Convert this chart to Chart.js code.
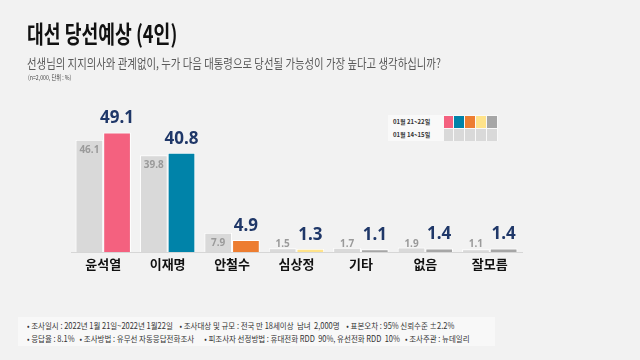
<!DOCTYPE html>
<html>
<head>
<meta charset="utf-8">
<script src="https://cdn.jsdelivr.net/npm/chart.js@4"></script>
<style>
  html, body { margin: 0; padding: 0; }
  body { width: 640px; height: 360px; background: #f2f2f2; position: relative; overflow: hidden;
         font-family: "Noto Sans CJK KR", "Noto Sans", sans-serif; }
  #chart { position: absolute; left: 0; top: 0; }
  .sq { position: absolute; transform-origin: left top; white-space: nowrap; }
  .title { left: 27px; top: 15px; font-size: 24px; font-weight: 700; color: #111; transform: scaleX(0.76); }
  .sub { left: 27px; top: 53px; font-size: 13px; color: #595959; transform: scaleX(0.8); }
  .note { left: 28px; top: 72px; font-size: 6.5px; color: #444; transform: scaleX(0.8); }
  .legend { position: absolute; left: 388px; top: 115px; width: 110px; height: 26px; background: #f9f9f9; }
  .legend .row { display: flex; height: 13px; align-items: center; }
  .legend .lbl { width: 56px; font-size: 6px; font-weight: 700; color: #333; padding-left: 5px; box-sizing: border-box; }
  .legend .sw { width: 10px; height: 12px; margin-right: 1px; }
  .foot { position: absolute; left: 18px; top: 317px; width: 477px; height: 29px; background: #f8f8f8; }
  .foot .txt { left: 9px; top: 2px; font-size: 8.5px; color: #333; line-height: 13px; white-space: pre; transform: scaleX(0.88); }
</style>
</head>
<body>
<canvas id="chart" width="640" height="360"></canvas>
<div class="sq title">대선 당선예상 (4인)</div>
<div class="sq sub">선생님의 지지의사와 관계없이, 누가 다음 대통령으로 당선될 가능성이 가장 높다고 생각하십니까?</div>
<div class="sq note">(n=2,000, 단위 : %)</div>
<div class="legend" id="legend"></div>
<div class="foot"><div class="sq txt">• 조사일시 : 2022년 1월 21일~2022년 1월22일    • 조사대상 및 규모 : 전국 만 18세이상  남녀  2,000명    • 표본오차 : 95% 신뢰수준 ±2.2%
• 응답율 : 8.1%   • 조사방법 : 유무선 자동응답전화조사      • 피조사자 선정방법 : 휴대전화 RDD  90%, 유선전화 RDD  10%   • 조사주관 : 뉴데일리</div></div>

<script>
const categories = ["윤석열", "이재명", "안철수", "심상정", "기타", "없음", "잘모름"];
const seriesNames = ["01월 14~15일", "01월 21~22일"];
const prevValues = [46.1, 39.8, 7.9, 1.5, 1.7, 1.9, 1.1];
const currValues = [49.1, 40.8, 4.9, 1.3, 1.1, 1.4, 1.4];
const currColors = ["#f4617f", "#0083a9", "#ed7d31", "#ffe38a", "#a6a6a6", "#a6a6a6", "#a6a6a6"];
const prevColor = "#d9d9d9";

// legend squares (5 swatches as in the original)
const legendSwatches = currColors.slice(0, 5);
const legend = document.getElementById("legend");
[[seriesNames[1], legendSwatches], [seriesNames[0], legendSwatches.map(() => prevColor)]].forEach(([name, cols]) => {
  const row = document.createElement("div");
  row.className = "row";
  row.innerHTML = `<div class="lbl">${name}</div>` + cols.map(c => `<div class="sw" style="background:${c}"></div>`).join("");
  legend.appendChild(row);
});

const valueLabels = {
  id: "valueLabels",
  afterDatasetsDraw(chart) {
    const ctx = chart.ctx;
    const base = chart.chartArea.bottom;
    ctx.save();
    ctx.textAlign = "center";
    ctx.textBaseline = "middle";
    chart.data.datasets.forEach((ds, i) => {
      const meta = chart.getDatasetMeta(i);
      meta.data.forEach((bar, j) => {
        const v = ds.data[j].toFixed(1);
        if (i === 0) {
          ctx.font = "bold 10px 'Noto Sans', sans-serif";
          ctx.fillStyle = "#9a9a9a";
          ctx.fillText(v, bar.x, Math.min(bar.y + 10, base - 8));
        } else {
          ctx.font = "bold 17px 'Noto Sans', sans-serif";
          ctx.fillStyle = "#1f3768";
          ctx.fillText(v, bar.x, bar.y - 14);
        }
      });
    });
    ctx.restore();
  }
};

new Chart(document.getElementById("chart").getContext("2d"), {
  type: "bar",
  data: {
    labels: categories,
    datasets: [
      { label: seriesNames[0], data: prevValues, backgroundColor: prevColor, borderColor: "#ffffff", borderWidth: 1 },
      { label: seriesNames[1], data: currValues, backgroundColor: currColors, borderColor: "#ffffff", borderWidth: 1 }
    ]
  },
  options: {
    responsive: false,
    animation: false,
    layout: { padding: { left: 71, right: 118, top: 106, bottom: 84 } },
    datasets: { bar: { categoryPercentage: 0.86, barPercentage: 1 } },
    plugins: { legend: { display: false }, tooltip: { enabled: false } },
    scales: {
      x: {
        grid: { display: false, drawTicks: false },
        border: { display: true, color: "#d6d6d6" },
        ticks: { color: "#111", padding: 4, font: { size: 13, weight: "bold", family: "'Noto Sans CJK KR'" } },
        afterFit: s => { s.height = 24; }
      },
      y: { display: false, min: 0, max: 60 }
    }
  },
  plugins: [valueLabels]
});
</script>
</body>
</html>
